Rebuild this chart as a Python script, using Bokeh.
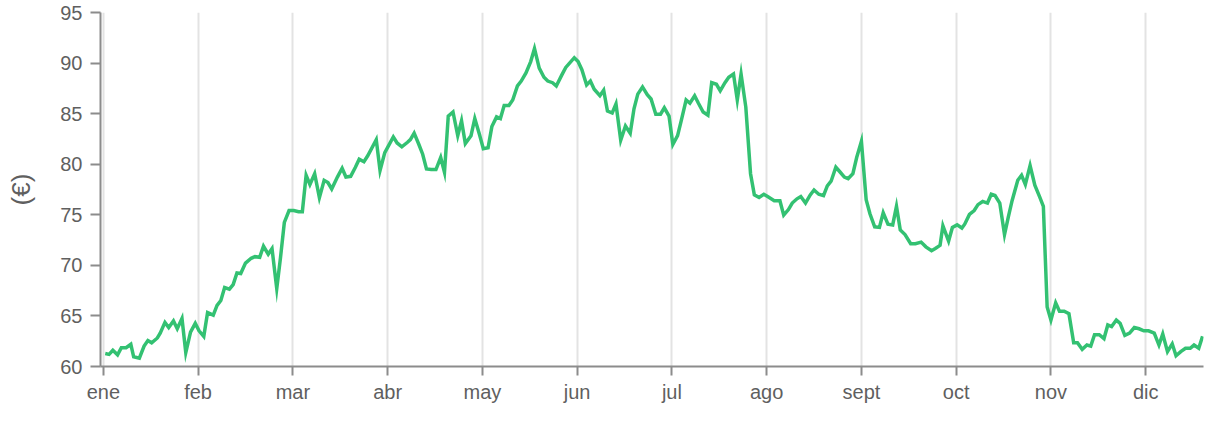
from bokeh.plotting import figure
from bokeh.models import Range1d, FixedTicker, ColumnDataSource
from bokeh.embed import file_html
from bokeh.resources import INLINE

months = ["ene", "feb", "mar", "abr", "may", "jun", "jul", "ago", "sept", "oct", "nov", "dic"]
y_ticks = [60, 65, 70, 75, 80, 85, 90, 95]

# time in months since 1 January (month ticks are evenly spaced)
t = [0.02, 0.06, 0.10, 0.15, 0.19, 0.24, 0.29, 0.32, 0.38, 0.43, 0.47, 0.51, 0.57, 0.60, 0.65, 0.69,
     0.74, 0.78, 0.83, 0.87, 0.92, 0.97, 1.01, 1.06, 1.10, 1.16, 1.20, 1.24, 1.28, 1.33, 1.37, 1.41,
     1.45, 1.50, 1.56, 1.60, 1.65, 1.69, 1.74, 1.78, 1.83, 1.87, 1.91, 1.96, 2.01, 2.06, 2.10, 2.14,
     2.18, 2.23, 2.28, 2.33, 2.37, 2.41, 2.47, 2.52, 2.56, 2.61, 2.66, 2.70, 2.75, 2.79, 2.88, 2.92,
     2.97, 3.06, 3.10, 3.15, 3.21, 3.24, 3.28, 3.33, 3.37, 3.41, 3.46, 3.51, 3.56, 3.60, 3.64, 3.69,
     3.74, 3.78, 3.82, 3.88, 3.92, 3.97, 4.01, 4.06, 4.10, 4.15, 4.19, 4.23, 4.28, 4.32, 4.37, 4.41,
     4.46, 4.51, 4.55, 4.60, 4.65, 4.69, 4.74, 4.78, 4.84, 4.88, 4.92, 4.97, 5.01, 5.05, 5.10, 5.14,
     5.18, 5.24, 5.28, 5.32, 5.37, 5.41, 5.46, 5.51, 5.56, 5.60, 5.64, 5.69, 5.74, 5.78, 5.83, 5.88,
     5.92, 5.97, 6.01, 6.06, 6.10, 6.15, 6.19, 6.24, 6.28, 6.33, 6.38, 6.42, 6.47, 6.51, 6.56, 6.60,
     6.65, 6.69, 6.73, 6.78, 6.83, 6.87, 6.92, 6.97, 7.01, 7.08, 7.14, 7.18, 7.23, 7.27, 7.32, 7.36,
     7.41, 7.46, 7.50, 7.55, 7.60, 7.64, 7.68, 7.73, 7.77, 7.82, 7.86, 7.91, 7.95, 8.00, 8.05, 8.09,
     8.14, 8.19, 8.23, 8.28, 8.33, 8.37, 8.41, 8.46, 8.52, 8.57, 8.63, 8.68, 8.74, 8.78, 8.83, 8.86,
     8.92, 8.96, 9.01, 9.06, 9.09, 9.14, 9.19, 9.23, 9.28, 9.33, 9.37, 9.41, 9.46, 9.51, 9.55, 9.59,
     9.65, 9.69, 9.73, 9.78, 9.83, 9.88, 9.92, 9.96, 10.00, 10.05, 10.09, 10.14, 10.19, 10.24, 10.28,
     10.33, 10.38, 10.42, 10.46, 10.51, 10.56, 10.60, 10.64, 10.69, 10.73, 10.78, 10.83, 10.88, 10.93,
     10.98, 11.03, 11.09, 11.14, 11.18, 11.23, 11.28, 11.32, 11.37, 11.42, 11.47, 11.51, 11.56, 11.60]

price = [61.28, 61.20, 61.60, 61.15, 61.86, 61.86, 62.20, 60.96, 60.83, 62.02, 62.57, 62.34, 62.82, 63.30, 64.36, 63.85,
         64.50, 63.73, 64.75, 61.37, 63.40, 64.27, 63.53, 62.98, 65.33, 65.08, 66.04, 66.52, 67.80, 67.64, 68.10, 69.25,
         69.19, 70.22, 70.70, 70.86, 70.80, 71.89, 71.10, 71.66, 67.70, 70.80, 74.24, 75.42, 75.42, 75.30, 75.30, 78.90,
         78.00, 79.06, 76.70, 78.41, 78.19, 77.55, 78.73, 79.60, 78.73, 78.80, 79.70, 80.50, 80.25, 80.83, 82.43, 79.38,
         81.15, 82.70, 82.10, 81.72, 82.17, 82.43, 83.07, 81.95, 80.99, 79.54, 79.47, 79.47, 80.66, 79.20, 84.75, 85.16,
         82.82, 84.30, 82.05, 82.82, 84.52, 82.92, 81.53, 81.63, 83.72, 84.68, 84.52, 85.80, 85.80, 86.35, 87.74, 88.22,
         89.02, 90.15, 91.43, 89.50, 88.60, 88.22, 88.06, 87.74, 88.86, 89.57, 89.99, 90.53, 90.15, 89.34, 87.83, 88.22,
         87.41, 86.77, 87.32, 85.26, 85.07, 85.96, 82.37, 83.78, 83.07, 85.48, 86.93, 87.64, 86.87, 86.45, 84.94, 84.94,
         85.58, 84.75, 81.95, 82.82, 84.36, 86.35, 86.03, 86.77, 86.03, 85.16, 84.84, 88.06, 87.90, 87.26, 88.06, 88.60,
         88.92, 86.35, 88.92, 85.65, 79.06, 76.97, 76.71, 77.03, 76.80, 76.39, 76.39, 74.97, 75.52, 76.16, 76.58, 76.80,
         76.16, 76.97, 77.45, 77.03, 76.90, 77.86, 78.32, 79.70, 79.28, 78.73, 78.58, 79.06, 80.66, 82.27, 76.49, 75.10,
         73.81, 73.75, 75.20, 74.07, 74.00, 75.84, 73.50, 73.04, 72.14, 72.14, 72.30, 71.83, 71.44, 71.66, 71.98, 73.91,
         72.40, 73.75, 74.00, 73.69, 74.07, 75.04, 75.42, 76.00, 76.32, 76.16, 77.03, 76.90, 76.16, 73.04, 74.78, 76.39,
         78.41, 78.90, 78.00, 79.86, 77.93, 76.80, 75.84, 65.88, 64.59, 66.29, 65.46, 65.46, 65.23, 62.34, 62.34,
         61.70, 62.12, 62.02, 63.15, 63.15, 62.76, 64.11, 63.95, 64.59, 64.27, 63.08, 63.30, 63.85, 63.73,
         63.53, 63.53, 63.30, 62.12, 63.21, 61.47, 62.24, 61.06, 61.47, 61.80, 61.80, 62.12, 61.80, 62.98]

FONT = "Liberation Sans"
TXT = "#5f5f5f"
AXC = "#8c8c8c"

p = figure(width=1204, height=405, output_backend="svg", toolbar_location=None,
           x_range=Range1d(-0.03, 11.61), y_range=Range1d(60, 95),
           min_border_left=100, min_border_right=1, min_border_top=12, min_border_bottom=37)
p.outline_line_color = None
p.background_fill_color = "white"
p.border_fill_color = "white"

src = ColumnDataSource(dict(t=t, price=price))
p.line("t", "price", source=src, line_color="#33c172", line_width=3.5, line_join="miter")

p.xaxis.ticker = FixedTicker(ticks=list(range(len(months))))
p.xaxis.major_label_overrides = {i: m for i, m in enumerate(months)}
p.yaxis.ticker = FixedTicker(ticks=y_ticks)
p.yaxis.axis_label = "(€)"

for ax in (p.xaxis[0], p.yaxis[0]):
    ax.axis_line_color = AXC
    ax.axis_line_width = 2
    ax.major_tick_line_color = AXC
    ax.major_tick_line_width = 2
    ax.major_tick_in = 0
    ax.minor_tick_line_color = None
    ax.major_label_text_font = FONT
    ax.major_label_text_font_size = "20px"
    ax.major_label_text_color = TXT

p.xaxis.major_tick_out = 9
p.xaxis.major_label_standoff = 5
p.yaxis.major_tick_out = 10
p.yaxis.major_label_standoff = 8

p.yaxis.axis_label_text_font = FONT
p.yaxis.axis_label_text_font_size = "26px"
p.yaxis.axis_label_text_font_style = "normal"
p.yaxis.axis_label_text_color = TXT
p.yaxis.axis_label_standoff = 21

p.xgrid.grid_line_color = "#e3e3e3"
p.xgrid.grid_line_width = 2
p.ygrid.grid_line_color = None

open("out.html", "w").write(file_html(p, INLINE))
